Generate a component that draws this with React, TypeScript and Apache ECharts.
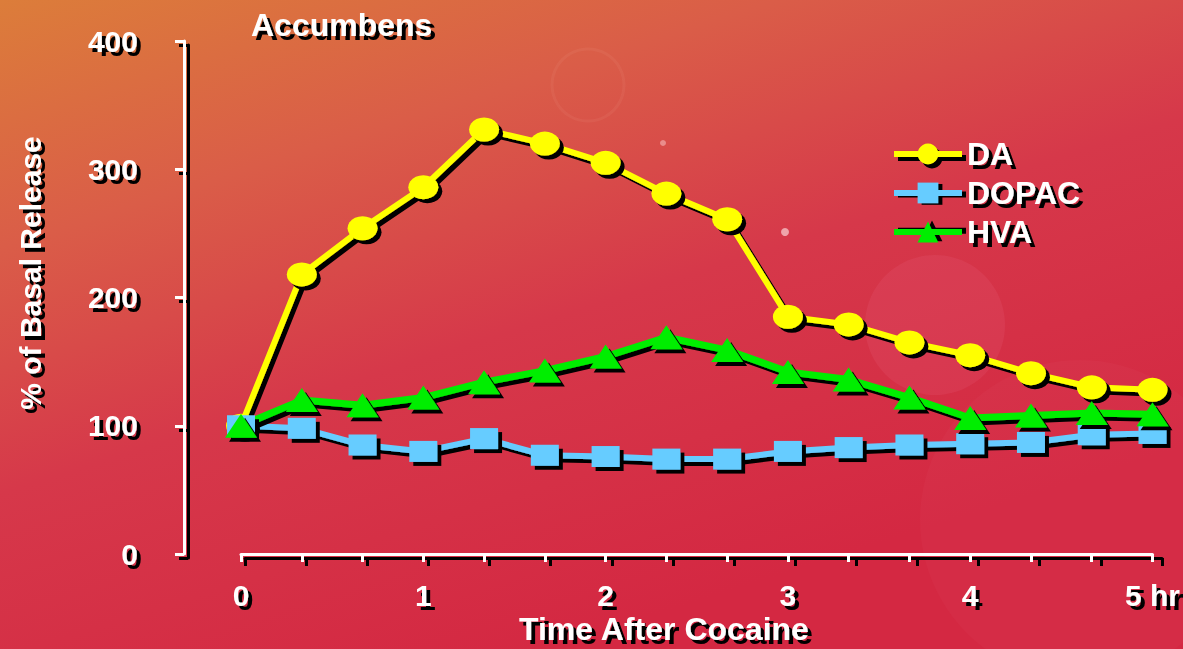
import React, { useEffect, useRef } from "react";
import * as echarts from "echarts";

const timeLabels = ["0", "", "", "1", "", "", "2", "", "", "3", "", "", "4", "", "", "5 hr"];
const daValues = [100, 218, 254, 286, 331, 320, 305, 281, 261, 185, 179, 165, 155, 141, 130, 128];
const dopacValues = [100, 98, 85, 80, 90, 77, 76, 74, 74, 80, 83, 85, 86, 87, 93, 94];
const hvaValues = [100, 120, 116, 122, 134, 143, 154, 169, 159, 142, 136, 122, 106, 108, 110, 109];
const yTicks = [0, 100, 200, 300, 400];
const seriesNames = ["DA", "DOPAC", "HVA"];

const FONT = "'Liberation Sans', Arial, sans-serif";
const SH = 4; // shadow offset
const lineShadow = { shadowColor: "#000000", shadowOffsetX: SH, shadowOffsetY: SH, shadowBlur: 0 };
const textShadow = { textShadowColor: "#000000", textShadowOffsetX: SH, textShadowOffsetY: SH, textShadowBlur: 0.1 };

export default function App() {
  const ref = useRef<HTMLDivElement>(null);
  useEffect(() => {
    if (!ref.current) return;
    const chart = echarts.init(ref.current, undefined, { renderer: "svg" });
    const mkSeries = (name: string, data: number[], color: string, symbol: string, size: number[], width: number) => ({
      name,
      type: "line",
      data,
      symbol,
      symbolSize: size,
      showAllSymbol: true,
      xAxisIndex: 0,
      yAxisIndex: 0,
      lineStyle: { color, width, ...lineShadow },
      itemStyle: { color, borderWidth: 0, ...lineShadow },
      emphasis: { disabled: true },
    });
    const txt = (color: string, size: number) => ({
      color,
      fontFamily: FONT,
      fontWeight: "bold" as const,
      fontSize: size,
      ...textShadow,
    });
    const mkX = (idx: number, color: string, z: number, labels: boolean) => ({
      type: "category",
      gridIndex: idx,
      data: timeLabels,
      boundaryGap: false,
      z,
      axisLine: { lineStyle: { color, width: 3 } },
      axisTick: { interval: 0, length: 8, lineStyle: { color, width: 3 } },
      axisLabel: { show: labels, interval: 0, margin: 26, ...txt(color, 30) },
      splitLine: { show: false },
    });
    const mkY = (idx: number, color: string, z: number, labels: boolean) => ({
      type: "value",
      gridIndex: idx,
      min: yTicks[0],
      max: yTicks[yTicks.length - 1],
      interval: 100,
      offset: 57,
      z,
      axisLine: { show: true, lineStyle: { color, width: 3 } },
      axisTick: { show: true, length: 9, lineStyle: { color, width: 3 } },
      axisLabel: { show: labels, margin: 46, ...txt(color, 30) },
      splitLine: { show: false },
    });
    chart.setOption({
      animation: false,
      backgroundColor: {
        type: "linear",
        x: 0,
        y: 0,
        x2: 0.55,
        y2: 0.95,
        colorStops: [
          { offset: 0, color: "#dc7d3a" },
          { offset: 0.3, color: "#da5d48" },
          { offset: 0.6, color: "#d6384a" },
          { offset: 1, color: "#d42842" },
        ],
      },
      graphic: [
        { type: "circle", z: -10, shape: { cx: 935, cy: 325, r: 70 }, style: { fill: "rgba(255,170,200,0.08)" }, silent: true },
        { type: "circle", z: -10, shape: { cx: 1080, cy: 520, r: 160 }, style: { fill: "rgba(255,160,170,0.04)" }, silent: true },
        { type: "circle", z: -10, shape: { cx: 588, cy: 85, r: 36 }, style: { fill: "none", stroke: "rgba(255,200,180,0.07)", lineWidth: 3 }, silent: true },
        { type: "circle", z: -10, shape: { cx: 785, cy: 232, r: 4 }, style: { fill: "rgba(255,235,235,0.6)" }, silent: true },
        { type: "circle", z: -10, shape: { cx: 663, cy: 143, r: 3 }, style: { fill: "rgba(255,220,220,0.45)" }, silent: true },
        {
          type: "text",
          x: 30,
          y: 273,
          rotation: Math.PI / 2,
          style: {
            text: "% of Basal Release",
            fill: "#ffffff",
            font: `bold 30px ${FONT}`,
            align: "center",
            verticalAlign: "middle",
            // rotated 90deg: local offset (x=-4,y=4) maps to screen (+4,+4)
            textShadowColor: "#000000",
            textShadowOffsetX: -SH,
            textShadowOffsetY: SH,
            textShadowBlur: 0.1,
          },
          silent: true,
        },
      ],
      title: [
        { text: "Accumbens", left: 246, top: 4, textStyle: txt("#ffffff", 32) },
        { text: "Time After Cocaine", left: 514, top: 608, textStyle: txt("#ffffff", 32) },
      ],
      legend: [
        {
          orient: "vertical",
          itemWidth: 68,
          itemHeight: 26,
          itemGap: 13,
          data: seriesNames,
          selectedMode: false,
          formatter: () => "",
          left: 886 + SH,
          top: 136 + SH,
          z: 3,
          itemStyle: { color: "#000000", borderWidth: 0, shadowColor: "transparent" },
          lineStyle: { color: "#000000", width: 6, shadowColor: "transparent" },
          textStyle: { fontSize: 1 },
        },
        {
          orient: "vertical",
          itemWidth: 68,
          itemHeight: 26,
          itemGap: 7,
          data: seriesNames,
          selectedMode: false,
          left: 886,
          top: 133,
          z: 4,
          itemStyle: { borderWidth: 0, shadowColor: "transparent" },
          lineStyle: { width: 6, shadowColor: "transparent" },
          textStyle: { ...txt("#ffffff", 32), lineHeight: 32 },
        },
      ],
      grid: [
        { left: 241, right: 25, top: 41, bottom: 95 },
        { left: 241 + SH, right: 25 - SH, top: 41 + SH, bottom: 95 - SH },
      ],
      xAxis: [mkX(0, "#ffffff", 1, true), mkX(1, "#000000", 0, false)],
      yAxis: [mkY(0, "#ffffff", 1, true), mkY(1, "#000000", 0, false)],
      series: [
        mkSeries("DA", daValues, "#ffff00", "circle", [30, 24], 6),
        mkSeries("DOPAC", dopacValues, "#66ccff", "rect", [28, 21], 6),
        mkSeries("HVA", hvaValues, "#00ee00", "triangle", [32, 24], 7),
      ],
    });
    return () => chart.dispose();
  }, []);
  return <div ref={ref} style={{ width: 1183, height: 649, position: "absolute", left: 0, top: 0 }} />;
}
